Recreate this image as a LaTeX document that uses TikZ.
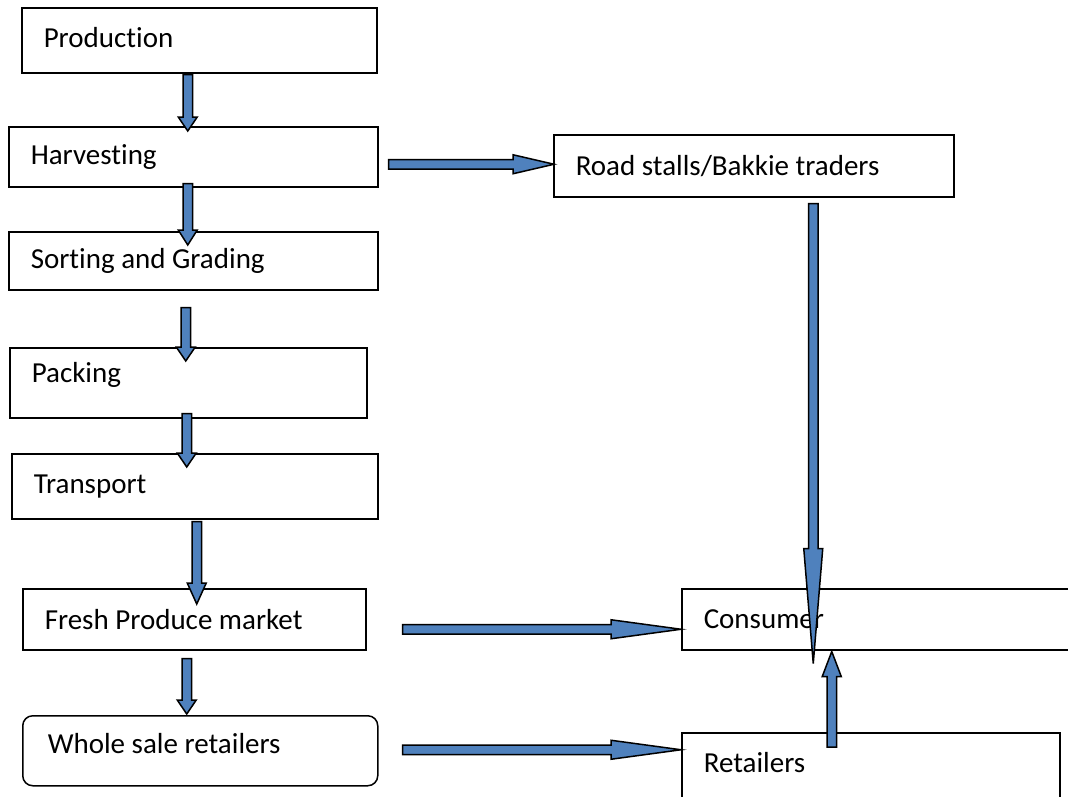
\documentclass[tikz,border=0pt]{standalone}
\usepackage{fontspec}
\setmainfont{Carlito}[Ligatures=NoCommon]
\usetikzlibrary{calc}
\definecolor{arrowblue}{HTML}{4F81BD}
\tikzset{
  box/.style={draw=black, fill=white, line width=1.5pt, anchor=north west,
    align=flush left, inner xsep=22pt, inner ysep=0pt},
  boxsize/.style 2 args={text width=#1pt, minimum height=#2pt},
  flow/.style={draw=black, fill=arrowblue, line width=1.5pt, line join=miter}
}
% block arrow: [head length] from, to
\newcommand{\flowarrow}[3][15]{%
  \path[flow] let \p1=(#2), \p2=(#3), \p3=($(\p2)-(\p1)$),
    \n1={veclen(\x3,\y3)}, \n2={atan2(\y3,\x3)} in
    [shift={(\p1)}, rotate=\n2]
    (0pt,-4.75pt) -- ({(\n1-#1)*1pt},-4.75pt) -- ({(\n1-#1)*1pt},-9.5pt)
    -- ({\n1*1pt},0pt) -- ({(\n1-#1)*1pt},9.5pt) -- ({(\n1-#1)*1pt},4.75pt)
    -- (0pt,4.75pt) -- cycle;}
\begin{document}
\begin{tikzpicture}[x=1pt, y=-1pt, font=\fontsize{29}{34}\selectfont]
\fill[white] (0,0) rectangle (1068,796);
\useasboundingbox (0,0) rectangle (1068,796);
\clip (0,0) rectangle (1068,796);
% left column
\node[box, boxsize={311}{65}, text depth=6pt] (prod) at (21,7) {Production};
\node[box, boxsize={325}{60}] (harv) at (8,126) {Harvesting};
\node[box, boxsize={325}{58}] (sort) at (8,231) {Sorting and Grading};
\node[box, boxsize={313}{70}, text depth=20pt] (pack) at (9,347) {Packing};
\node[box, boxsize={322}{65}] (trans) at (11,453) {Transport};
\node[box, boxsize={299}{61}] (fresh) at (22,588) {Fresh Produce market};
\node[box, boxsize={305}{70}, inner xsep=25pt, rounded corners=10pt, text depth=14pt] (whole) at (22,715) {Whole sale retailers};
% right column
\node[box, boxsize={356}{62}] (road) at (553,134) {Road stalls/Bakkie traders};
\node[box, boxsize={356}{61}] (cons) at (681,588) {Consumer};
\node[box, boxsize={334}{75}, text depth=16pt] (ret) at (681,732) {Retailers};
% arrows
\flowarrow[14]{$(prod.south)+(-11.5,1)$}{$(harv.north)+(-5.5,5)$}
\flowarrow[15]{$(harv.south)+(-5.5,-4)$}{$(sort.north)+(-5.5,14)$}
\flowarrow[14]{$(sort.south)+(-7.5,17)$}{$(pack.north)+(-2.5,14)$}
\flowarrow[14]{$(pack.south)+(-1.5,-5)$}{$(trans.north)+(-8,14)$}
\flowarrow[21]{$(trans.south)+(2,2)$}{$(fresh.north)+(2.5,16)$}
\flowarrow[14]{$(fresh.south)+(-7.5,8)$}{$(whole.north)+(-13.5,-1)$}
\flowarrow[41]{$(harv.east)+(10,7.5)$}{$(road.west)+(1,-1.5)$}
\flowarrow[70]{$(fresh.east)+(36,10)$}{$(cons.west)+(0,10)$}
\flowarrow[70]{$(whole.east)+(24,-1)$}{$(ret.west)+(0,-20.5)$}
\flowarrow[115]{$(road.south)+(59.5,6)$}{$(cons.south)+(-68.5,13)$}
\flowarrow[25]{$(ret.north)+(-39,15)$}{$(cons.south)+(-50,1)$}
\end{tikzpicture}
\end{document}
